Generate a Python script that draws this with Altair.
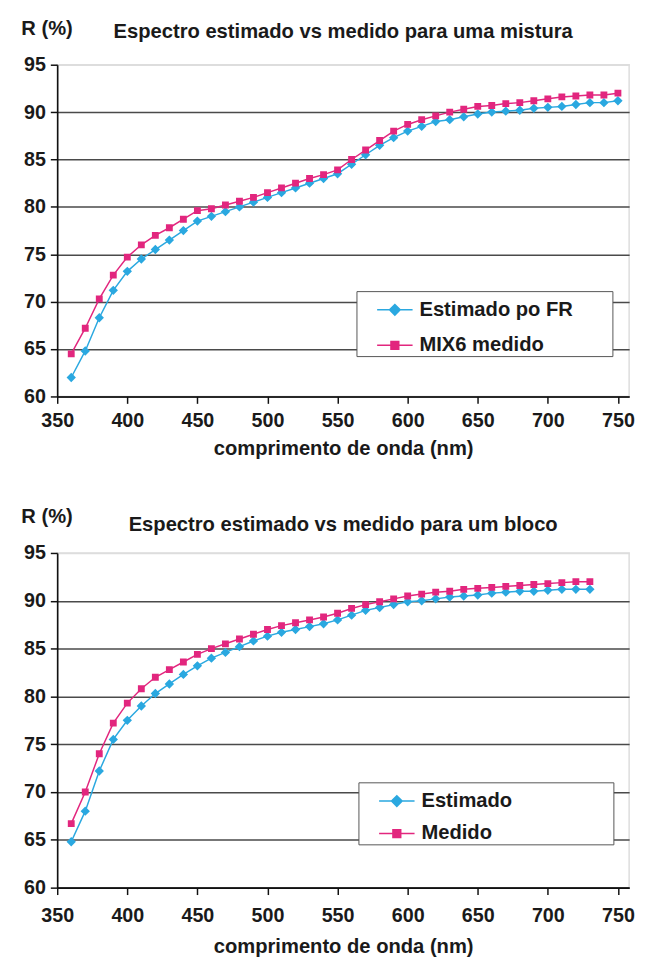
import altair as alt
import pandas as pd

FONT = "Liberation Sans"
CYAN = "#2AA8E0"
MAGENTA = "#E2267E"

# ---- data: top panel (mixture) ----
wl_top = [360, 370, 380, 390, 400, 410, 420, 430, 440, 450,
          460, 470, 480, 490, 500, 510, 520, 530, 540, 550,
          560, 570, 580, 590, 600, 610, 620, 630, 640, 650,
          660, 670, 680, 690, 700, 710, 720, 730, 740, 750]
est_top = [62.0, 64.8, 68.3, 71.2, 73.2, 74.5, 75.5, 76.5, 77.5, 78.5,
           79.0, 79.5, 80.0, 80.5, 81.0, 81.5, 82.0, 82.5, 83.0, 83.5,
           84.5, 85.5, 86.5, 87.3, 88.0, 88.5, 89.0, 89.2, 89.5, 89.8,
           90.0, 90.1, 90.2, 90.4, 90.5, 90.6, 90.8, 91.0, 91.0, 91.2]
med_top = [64.5, 67.2, 70.3, 72.8, 74.7, 76.0, 77.0, 77.8, 78.7, 79.6,
           79.8, 80.2, 80.6, 81.0, 81.5, 82.0, 82.5, 83.0, 83.4, 83.9,
           85.0, 86.0, 87.0, 88.0, 88.7, 89.2, 89.6, 90.0, 90.3, 90.6,
           90.7, 90.9, 91.0, 91.2, 91.4, 91.6, 91.7, 91.8, 91.8, 92.0]

# ---- data: bottom panel (block) ----
wl_bot = [360, 370, 380, 390, 400, 410, 420, 430, 440, 450,
          460, 470, 480, 490, 500, 510, 520, 530, 540, 550,
          560, 570, 580, 590, 600, 610, 620, 630, 640, 650,
          660, 670, 680, 690, 700, 710, 720, 730]
est_bot = [64.8, 68.0, 72.2, 75.5, 77.5, 79.0, 80.3, 81.3, 82.3, 83.2,
           84.0, 84.6, 85.2, 85.8, 86.3, 86.7, 87.0, 87.3, 87.6, 88.0,
           88.5, 89.0, 89.3, 89.6, 89.9, 90.0, 90.2, 90.4, 90.5, 90.6,
           90.8, 90.9, 91.0, 91.0, 91.1, 91.2, 91.2, 91.2]
med_bot = [66.7, 70.0, 74.0, 77.2, 79.3, 80.8, 82.0, 82.8, 83.6, 84.4,
           85.0, 85.5, 86.0, 86.5, 87.0, 87.4, 87.7, 88.0, 88.3, 88.7,
           89.2, 89.6, 89.9, 90.2, 90.5, 90.7, 90.9, 91.0, 91.2, 91.3,
           91.4, 91.5, 91.6, 91.7, 91.8, 91.9, 92.0, 92.0]

x_ticks = [350, 400, 450, 500, 550, 600, 650, 700, 750]
y_ticks = [60, 65, 70, 75, 80, 85, 90, 95]

DIAMOND = "M-1,0H1M0,-0.3L0.3,0L0,0.3L-0.3,0Z"
SQUARE = "M-1,0H1M-0.22,-0.22H0.22V0.22H-0.22Z"

W = 581
FS = 20.5


def panel(wl, est, med, names, title, pad_n, height, lab_pad, tit_pad,
          leg_x, leg_y, row_pad, title_dy):
    df = pd.DataFrame({
        "wl": wl + wl,
        "R": est + med,
        "serie": [names[0]] * len(wl) + [names[1]] * len(wl),
    })
    x = alt.X("wl:Q",
              scale=alt.Scale(domain=[350, 758], nice=False, zero=False),
              axis=alt.Axis(values=x_ticks, title="comprimento de onda (nm)",
                            grid=False, labelPadding=lab_pad, titlePadding=tit_pad,
                            labelFlush=False, format="d"))
    y = alt.Y("R:Q",
              scale=alt.Scale(domain=[60, 95], nice=False, zero=False),
              axis=alt.Axis(values=y_ticks, title="R (%)", grid=True,
                            gridColor={"condition": {"test": "datum.value === 95", "value": "#dddddd"},
                                       "value": "#4a4a4a"},
                            gridWidth=1.6, labelPadding=5, labelFlush=False,
                            titleAngle=0, titleAlign="left", titleBaseline="middle",
                            titleX=-37, titleY=-37))
    pad = "\u00a0" * pad_n + "\u200b"
    legend = alt.Legend(title=None, orient="none", legendX=leg_x, legendY=leg_y,
                        fillColor="white", strokeColor="#555", padding=0,
                        symbolSize=1296, symbolStrokeWidth=1.5, symbolOffset=20,
                        labelFont=FONT, labelFontSize=FS, labelFontWeight="bold",
                        labelColor="#1a1a1a", labelOffset=6, rowPadding=row_pad,
                        labelLimit=400,
                        labelExpr=f"datum.label + '{pad}'")
    dom = names
    lines = alt.Chart(df).mark_line(strokeWidth=1.5).encode(
        x=x, y=y,
        stroke=alt.Stroke("serie:N", scale=alt.Scale(domain=dom, range=[CYAN, MAGENTA]),
                          legend=legend),
    )
    pts = alt.Chart(df).mark_point(filled=True, size=1000, opacity=1).encode(
        x=x, y=y,
        fill=alt.Fill("serie:N", scale=alt.Scale(domain=dom, range=[CYAN, MAGENTA]),
                      legend=legend),
        shape=alt.Shape("serie:N", scale=alt.Scale(domain=dom, range=[DIAMOND, SQUARE]),
                        legend=legend),
    )
    return alt.layer(lines, pts).properties(
        width=W, height=height,
        title=alt.TitleParams(title, font=FONT, fontSize=FS, fontWeight="bold",
                              color="#1a1a1a", anchor="middle", dy=title_dy),
    )


top = panel(wl_top, est_top, med_top, ["Estimado po FR", "MIX6 medido"],
            "Espectro estimado vs medido para uma mistura", 7, 337, 8, 8,
            304, 230, 6, 28)
bot = panel(wl_bot, est_bot, med_bot, ["Estimado", "Medido"],
            "Espectro estimado vs medido para um bloco", 18, 340, 11, 12,
            306, 233, 3, 33)

chart = alt.vconcat(top, bot, spacing=46).resolve_scale(
    stroke="independent", fill="independent", shape="independent"
).properties(
    padding={"left": 12, "top": 2, "right": 2, "bottom": 2}
).configure_view(
    stroke="#dddddd", strokeWidth=1.5
).configure_axis(
    labelFont=FONT, labelFontSize=20, labelFontWeight="bold", labelColor="#1a1a1a",
    titleFont=FONT, titleFontSize=FS, titleFontWeight="bold", titleColor="#1a1a1a",
    domainColor="#111111", domainWidth=1.6, tickColor="#111111", tickWidth=1.5,
    tickSize=7,
)

chart.save("out.html", embed_options={"renderer": "svg", "actions": False})
